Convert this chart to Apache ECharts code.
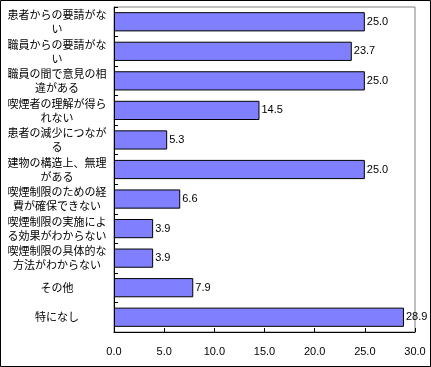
<!DOCTYPE html>
<html><head><meta charset="utf-8">
<script src="https://cdn.jsdelivr.net/npm/echarts@6/dist/echarts.min.js"></script>
<style>html,body{margin:0;padding:0;background:#fff}#c{width:431px;height:367px}</style>
</head><body><div id="c"></div>
<script>
const categories = [
  "患者からの要請がない",
  "職員からの要請がない",
  "職員の間で意見の相違がある",
  "喫煙者の理解が得られない",
  "患者の減少につながる",
  "建物の構造上、無理がある",
  "喫煙制限のための経費が確保できない",
  "喫煙制限の実施による効果がわからない",
  "喫煙制限の具体的な方法がわからない",
  "その他",
  "特になし"
];
const values = [25.0, 23.7, 25.0, 14.5, 5.3, 25.0, 6.6, 3.9, 3.9, 7.9, 28.9];
const xTicks = ["0.0","5.0","10.0","15.0","20.0","25.0","30.0"];

const chart = echarts.init(document.getElementById('c'), null, {renderer:'canvas'});
chart.setOption({
  animation:false,
  backgroundColor:'#fff',
  graphic:[{type:'rect',shape:{x:0.5,y:0.5,width:430,height:366},style:{fill:'none',stroke:'#000',lineWidth:1},z:100}],
  grid:{left:114,right:16,top:7,bottom:35,show:true,borderColor:'#808080',borderWidth:1},
  xAxis:{type:'value',min:0,max:30,interval:5,
    axisLine:{show:true,lineStyle:{color:'#000'}},
    axisTick:{show:true,inside:true,length:4,lineStyle:{color:'#000'}},
    splitLine:{show:false},
    axisLabel:{margin:14,color:'#000',fontSize:11,fontFamily:'Liberation Sans',
      formatter:(v)=>xTicks[Math.round(v/5)]}},
  yAxis:{type:'category',data:categories,inverse:true,
    axisLine:{show:true,lineStyle:{color:'#000'}},
    axisTick:{show:true,inside:true,length:4,lineStyle:{color:'#000'}},
    axisLabel:{color:'#000',fontSize:11,fontFamily:'Noto Sans CJK JP',lineHeight:14,
      width:100,overflow:'breakAll',align:'center',margin:57}},
  series:[{type:'bar',data:values,barCategoryGap:'35%',
    itemStyle:{color:'#8080FF',borderColor:'#000',borderWidth:1},
    label:{show:true,position:'right',distance:2,color:'#000',fontSize:11,fontFamily:'Liberation Sans',
      formatter:(p)=>p.value.toFixed(1)}}]
});
</script></body></html>
